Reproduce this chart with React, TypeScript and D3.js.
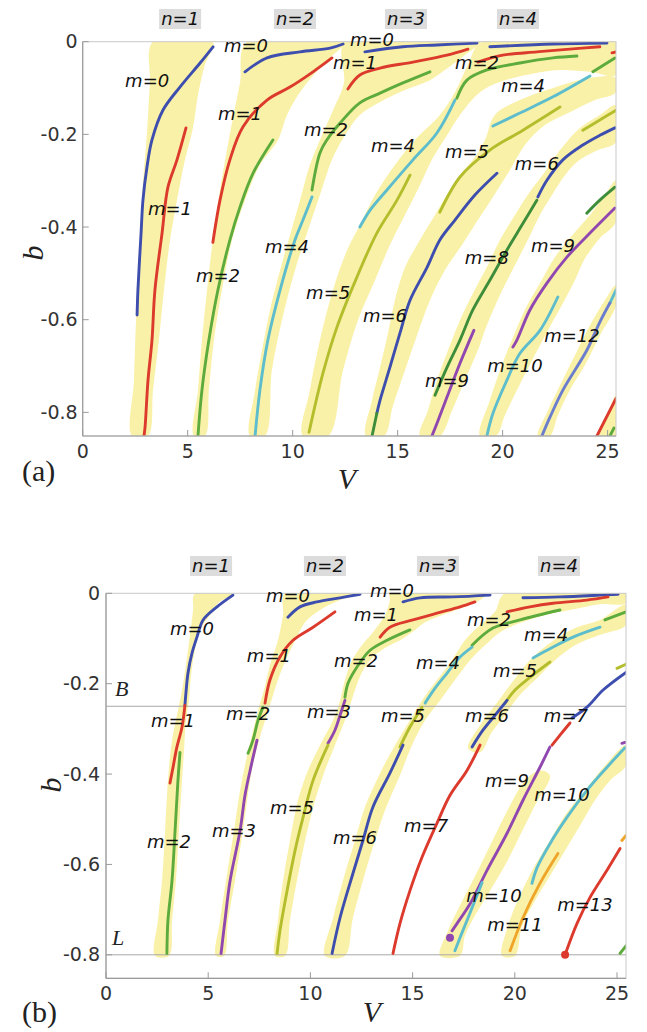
import React from 'react';
import * as d3 from 'd3';

type Pt = [number, number];

// ---------- shared axis ticks ----------
const xTicks = [0, 5, 10, 15, 20, 25];
const yTicks = [0, -0.2, -0.4, -0.6, -0.8];
const nTexts = ['n=1', 'n=2', 'n=3', 'n=4'];

// ---------- panel (a): shaded bands [V, b] ----------
const aBandN1: Pt[] = [[3.35, 0], [6.20, 0], [5.82, -0.050], [5.49, -0.115], [5.25, -0.186], [4.87, -0.255], [4.49, -0.342], [4.16, -0.428], [3.87, -0.536], [3.63, -0.644], [3.35, -0.752], [3.11, -0.851], [2.35, -0.851], [2.44, -0.731], [2.54, -0.601], [2.73, -0.428], [2.87, -0.305], [3.06, -0.197], [3.20, -0.089]];
const aBandN2: Pt[] = [[7.82, 0], [7.49, -0.089], [7.16, -0.163], [6.87, -0.234], [6.54, -0.320], [6.20, -0.428], [5.92, -0.536], [5.68, -0.644], [5.49, -0.752], [5.30, -0.851], [5.82, -0.851], [6.01, -0.752], [6.25, -0.644], [6.63, -0.536], [7.11, -0.428], [7.73, -0.342], [8.44, -0.266], [9.30, -0.212], [9.73, -0.158], [10.35, -0.109], [11.30, -0.057], [12.49, -0.007], [12.82, 0]];
const aBandN3: Pt[] = [[12.49, 0], [12.44, -0.089], [11.92, -0.148], [11.30, -0.212], [10.82, -0.266], [10.35, -0.342], [9.87, -0.418], [9.40, -0.493], [8.92, -0.579], [8.54, -0.666], [8.21, -0.752], [7.97, -0.851], [8.68, -0.851], [9.01, -0.709], [9.49, -0.601], [10.11, -0.493], [10.73, -0.407], [11.30, -0.331], [11.87, -0.255], [12.49, -0.202], [13.20, -0.158], [14.16, -0.130], [15.35, -0.104], [16.54, -0.083], [17.25, -0.061], [18.20, -0.029], [18.92, 0]];
const aBandN4: Pt[] = [[19.01, 0], [25.40, 0], [25.40, -0.072], [24.16, -0.065], [22.73, -0.061], [21.30, -0.070], [19.87, -0.087], [18.92, -0.109], [17.97, -0.158], [17.35, -0.202], [16.63, -0.255], [16.06, -0.310], [15.35, -0.374], [14.63, -0.439], [13.92, -0.515], [13.11, -0.601], [12.40, -0.709], [11.69, -0.851], [10.49, -0.851], [10.82, -0.752], [11.30, -0.644], [11.92, -0.536], [12.59, -0.450], [13.20, -0.396], [13.92, -0.331], [14.87, -0.266], [15.82, -0.212], [17.01, -0.158], [17.73, -0.109], [18.35, -0.050]];
const aBandM6: Pt[] = [[25.40, -0.078], [24.16, -0.078], [22.40, -0.100], [20.82, -0.126], [19.63, -0.158], [19.16, -0.212], [18.68, -0.249], [17.87, -0.294], [17.25, -0.338], [16.78, -0.374], [16.06, -0.428], [15.35, -0.487], [14.87, -0.558], [14.54, -0.629], [14.16, -0.703], [13.78, -0.774], [13.49, -0.851], [14.35, -0.851], [14.78, -0.785], [15.35, -0.709], [15.92, -0.634], [16.54, -0.558], [17.25, -0.493], [18.06, -0.439], [18.82, -0.385], [19.54, -0.335], [20.35, -0.277], [21.06, -0.223], [22.01, -0.180], [23.20, -0.152], [24.40, -0.126], [25.40, -0.109]];
const aBandM8: Pt[] = [[16.06, -0.851], [16.44, -0.796], [16.87, -0.731], [17.40, -0.666], [17.97, -0.601], [18.54, -0.547], [19.30, -0.482], [19.87, -0.428], [20.59, -0.374], [21.30, -0.324], [22.01, -0.281], [22.73, -0.234], [23.68, -0.186], [24.63, -0.158], [25.40, -0.137], [25.40, -0.217], [24.54, -0.234], [23.68, -0.255], [22.97, -0.288], [22.35, -0.331], [21.78, -0.374], [21.20, -0.428], [20.59, -0.482], [19.87, -0.547], [19.25, -0.612], [18.82, -0.666], [18.20, -0.731], [17.59, -0.796], [17.01, -0.851]];
const aBandM9: Pt[] = [[18.92, -0.851], [19.39, -0.774], [19.97, -0.698], [20.44, -0.644], [21.06, -0.579], [21.78, -0.521], [22.49, -0.465], [23.44, -0.411], [24.16, -0.374], [24.87, -0.331], [25.40, -0.299], [25.40, -0.389], [24.63, -0.424], [23.92, -0.468], [23.44, -0.515], [22.82, -0.569], [22.16, -0.623], [21.40, -0.688], [20.68, -0.752], [20.11, -0.806], [19.68, -0.851]];
const aBandM12: Pt[] = [[25.40, -0.525], [25.40, -0.569], [24.63, -0.634], [23.92, -0.698], [23.20, -0.752], [22.63, -0.806], [22.25, -0.851], [21.68, -0.851], [22.16, -0.796], [22.73, -0.742], [23.44, -0.677], [24.16, -0.612], [24.87, -0.558]];
const aBandCorner: Pt[] = [[25.40, -0.763], [25.40, -0.851], [24.54, -0.851], [24.97, -0.806]];

// ---------- panel (a): mode curves ----------
const aN1M0: Pt[] = [[6.21, -0.011], [5.59, -0.046], [4.63, -0.098], [3.82, -0.148], [3.30, -0.212], [3.06, -0.271], [2.87, -0.342], [2.78, -0.413], [2.63, -0.536], [2.59, -0.590]];
const aN1M1: Pt[] = [[4.92, -0.186], [4.49, -0.255], [4.06, -0.314], [3.78, -0.413], [3.44, -0.536], [3.30, -0.644], [3.11, -0.731], [2.97, -0.832], [2.92, -0.851]];
const aN2M0: Pt[] = [[7.73, -0.065], [8.78, -0.035], [10.35, -0.022], [11.78, -0.014], [12.40, -0.005]];
const aN2M1: Pt[] = [[6.20, -0.433], [6.54, -0.342], [7.01, -0.255], [7.63, -0.184], [8.78, -0.126], [9.87, -0.098], [10.97, -0.065], [11.87, -0.035]];
const aN2M2: Pt[] = [[9.06, -0.212], [8.11, -0.284], [7.49, -0.357], [7.01, -0.428], [6.44, -0.536], [6.01, -0.644], [5.68, -0.752], [5.49, -0.851]];
const aN3M0: Pt[] = [[13.44, -0.022], [15.25, -0.011], [16.87, -0.007], [18.78, -0.003]];
const aN3M1: Pt[] = [[12.63, -0.102], [13.20, -0.072], [14.16, -0.057], [15.73, -0.044], [17.35, -0.029], [18.35, -0.016]];
const aN3M2: Pt[] = [[16.54, -0.065], [15.25, -0.089], [14.16, -0.111], [13.20, -0.132], [12.25, -0.176], [11.63, -0.212], [11.30, -0.240], [10.92, -0.320]];
const aN3M4: Pt[] = [[10.92, -0.335], [10.49, -0.385], [10.11, -0.428], [9.40, -0.536], [8.82, -0.644], [8.44, -0.752], [8.21, -0.851]];
const aN4M0: Pt[] = [[19.39, -0.011], [22.40, -0.005], [24.97, -0.003]];
const aN4M1: Pt[] = [[18.82, -0.044], [20.01, -0.029], [21.63, -0.022], [23.20, -0.016], [24.63, -0.011]];
const aN4M1Tip: Pt[] = [[25.21, -0.024], [25.40, -0.022]];
const aN4M2: Pt[] = [[17.82, -0.122], [18.30, -0.083], [19.25, -0.061], [20.82, -0.046], [22.40, -0.035], [23.54, -0.031]];
const aN4M2Tip: Pt[] = [[24.30, -0.065], [25.35, -0.035]];
const aM4Low: Pt[] = [[17.73, -0.126], [16.87, -0.197], [15.73, -0.255], [14.49, -0.320], [13.68, -0.364], [13.20, -0.400]];
const aM5Low: Pt[] = [[15.59, -0.288], [14.97, -0.342], [14.01, -0.413], [13.06, -0.508], [12.11, -0.616], [11.44, -0.716], [10.78, -0.843]];
const aM4Up: Pt[] = [[19.54, -0.182], [20.82, -0.154], [22.40, -0.119], [24.16, -0.074]];
const aM5Up: Pt[] = [[22.73, -0.141], [20.97, -0.191], [19.39, -0.234], [17.97, -0.292], [17.01, -0.368]];
const aM6Low: Pt[] = [[19.73, -0.284], [18.68, -0.331], [17.73, -0.385], [17.01, -0.428], [16.40, -0.487], [15.59, -0.558], [15.11, -0.629], [14.63, -0.703], [14.16, -0.774], [14.01, -0.802]];
const aM6Tail: Pt[] = [[14.01, -0.802], [13.78, -0.851]];
const aM5Tip: Pt[] = [[23.82, -0.191], [24.63, -0.169], [25.40, -0.148]];
const aM6Up: Pt[] = [[25.35, -0.186], [24.63, -0.202], [23.82, -0.223], [22.87, -0.255], [22.11, -0.299], [21.68, -0.335]];
const aM8: Pt[] = [[21.63, -0.342], [20.97, -0.392], [20.20, -0.450], [19.39, -0.515], [18.58, -0.579], [17.97, -0.644], [17.35, -0.703], [16.78, -0.763]];
const aM9Low: Pt[] = [[18.63, -0.623], [17.97, -0.694], [17.35, -0.767], [16.87, -0.824], [16.63, -0.851]];
const aM8Tip: Pt[] = [[24.01, -0.370], [24.63, -0.342], [25.35, -0.314]];
const aM9Up: Pt[] = [[25.35, -0.359], [24.16, -0.413], [23.06, -0.465], [22.11, -0.521], [21.30, -0.579], [20.68, -0.644], [20.49, -0.659]];
const aM10: Pt[] = [[22.63, -0.551], [21.78, -0.623], [20.82, -0.673], [20.20, -0.731], [19.54, -0.802], [19.25, -0.851]];
const aM10Tip: Pt[] = [[25.40, -0.536], [25.11, -0.564]];
const aM12: Pt[] = [[25.11, -0.564], [24.63, -0.605], [24.01, -0.666], [22.87, -0.752], [22.25, -0.811], [21.87, -0.851]];
const aRedCorner: Pt[] = [[25.40, -0.770], [24.49, -0.851]];
const aGreenCorner: Pt[] = [[25.30, -0.834], [25.11, -0.851]];

const aLabels = [
  { t: 'm=0', v: 3.07, b: -0.083 }, { t: 'm=0', v: 7.78, b: -0.009 }, { t: 'm=0', v: 13.78, b: 0.004 },
  { t: 'm=1', v: 4.16, b: -0.360 }, { t: 'm=1', v: 7.49, b: -0.154 }, { t: 'm=1', v: 12.97, b: -0.046 },
  { t: 'm=2', v: 6.44, b: -0.504 }, { t: 'm=2', v: 11.59, b: -0.189 }, { t: 'm=2', v: 18.78, b: -0.046 },
  { t: 'm=4', v: 9.73, b: -0.443 }, { t: 'm=4', v: 14.78, b: -0.223 }, { t: 'm=4', v: 20.97, b: -0.094 },
  { t: 'm=5', v: 11.69, b: -0.541 }, { t: 'm=5', v: 18.30, b: -0.238 },
  { t: 'm=6', v: 14.40, b: -0.590 }, { t: 'm=6', v: 21.63, b: -0.262 },
  { t: 'm=8', v: 19.25, b: -0.465 }, { t: 'm=9', v: 22.40, b: -0.439 }, { t: 'm=9', v: 17.35, b: -0.731 },
  { t: 'm=10', v: 20.59, b: -0.698 }, { t: 'm=12', v: 23.30, b: -0.634 },
];
const aNLabelV = [4.64, 10.11, 15.40, 20.73];

// ---------- panel (b): shaded bands ----------
const bBandN1: Pt[] = [[4.35, 0], [4.26, -0.037], [4.11, -0.092], [3.91, -0.159], [3.72, -0.214], [3.52, -0.259], [3.23, -0.325], [3.03, -0.414], [2.89, -0.525], [2.74, -0.636], [2.54, -0.724], [2.40, -0.802], [3.08, -0.802], [3.23, -0.724], [3.42, -0.636], [3.57, -0.525], [3.72, -0.414], [3.82, -0.347], [3.91, -0.281], [4.06, -0.237], [4.16, -0.181], [4.35, -0.126], [4.60, -0.081], [5.09, -0.048], [5.48, -0.022], [6.21, 0]];
const bBandN2: Pt[] = [[8.76, 0], [8.66, -0.048], [8.41, -0.104], [8.02, -0.159], [7.73, -0.214], [7.44, -0.259], [7.14, -0.314], [6.85, -0.370], [6.56, -0.436], [6.26, -0.525], [5.87, -0.636], [5.58, -0.724], [5.38, -0.802], [5.77, -0.802], [5.97, -0.724], [6.31, -0.636], [6.70, -0.525], [7.05, -0.414], [7.29, -0.358], [7.63, -0.303], [8.02, -0.248], [8.41, -0.192], [8.90, -0.137], [9.34, -0.097], [9.74, -0.064], [10.47, -0.037], [11.45, -0.015], [12.43, 0]];
const bBandN3: Pt[] = [[13.89, 0], [18.64, 0], [18.30, -0.015], [17.56, -0.030], [16.59, -0.046], [15.61, -0.064], [15.12, -0.081], [14.38, -0.104], [13.65, -0.121], [13.01, -0.143], [12.52, -0.175], [12.18, -0.214], [11.94, -0.248], [11.69, -0.281], [11.20, -0.336], [10.71, -0.392], [10.23, -0.458], [9.74, -0.547], [9.34, -0.636], [9.00, -0.724], [8.76, -0.802], [8.27, -0.802], [8.41, -0.724], [8.66, -0.636], [9.00, -0.547], [9.39, -0.458], [9.88, -0.392], [10.47, -0.336], [11.11, -0.281], [11.45, -0.237], [11.69, -0.192], [12.04, -0.148], [12.52, -0.115], [13.06, -0.086], [13.65, -0.048], [13.89, -0.015]];
const bBandN4: Pt[] = [[19.52, 0], [25.44, 0], [25.44, -0.022], [24.17, -0.024], [22.70, -0.037], [21.48, -0.048], [20.25, -0.066], [19.28, -0.086], [18.54, -0.115], [17.81, -0.148], [17.07, -0.192], [16.34, -0.237], [15.61, -0.281], [14.97, -0.336], [14.38, -0.403], [13.65, -0.480], [13.16, -0.547], [12.67, -0.620], [12.08, -0.718], [11.69, -0.802], [10.71, -0.802], [11.11, -0.718], [11.69, -0.620], [12.18, -0.547], [12.67, -0.473], [13.41, -0.398], [14.14, -0.336], [14.87, -0.281], [15.46, -0.237], [16.19, -0.192], [16.93, -0.148], [17.56, -0.104], [18.30, -0.070], [19.03, -0.041]];
const bBandM5: Pt[] = [[25.44, -0.026], [25.44, -0.070], [24.17, -0.092], [22.95, -0.115], [21.97, -0.148], [20.99, -0.192], [20.11, -0.232], [19.52, -0.270], [18.88, -0.307], [18.30, -0.352], [17.71, -0.343], [18.30, -0.292], [19.03, -0.248], [19.77, -0.203], [20.74, -0.148], [21.72, -0.110], [22.95, -0.077], [24.17, -0.059]];
const bBandM9: Pt[] = [[21.23, -0.392], [21.72, -0.403], [20.99, -0.469], [20.25, -0.536], [19.52, -0.602], [18.79, -0.658], [18.05, -0.713], [17.56, -0.758], [17.32, -0.802], [16.34, -0.802], [16.73, -0.747], [17.32, -0.691], [18.20, -0.613], [19.03, -0.536], [19.77, -0.469], [20.50, -0.414]];
const bBandM10: Pt[] = [[25.44, -0.336], [25.44, -0.381], [24.66, -0.414], [23.92, -0.458], [23.19, -0.514], [22.46, -0.569], [21.72, -0.625], [20.99, -0.680], [20.35, -0.736], [20.01, -0.802], [19.37, -0.802], [19.67, -0.736], [20.25, -0.669], [20.99, -0.602], [21.72, -0.547], [22.46, -0.491], [23.43, -0.436], [24.41, -0.381]];

// ---------- panel (b): mode curves ----------
const bN1M0: Pt[] = [[6.21, -0.004], [5.43, -0.030], [4.75, -0.059], [4.45, -0.097], [4.21, -0.132], [4.01, -0.177], [3.91, -0.221], [3.86, -0.248]];
const bN1M1: Pt[] = [[3.86, -0.248], [3.72, -0.296], [3.47, -0.340], [3.28, -0.385], [3.13, -0.420]];
const bN1M2: Pt[] = [[3.62, -0.352], [3.52, -0.414], [3.38, -0.525], [3.23, -0.636], [3.03, -0.724], [2.98, -0.797]];
const bN2M0: Pt[] = [[8.90, -0.053], [9.49, -0.030], [10.32, -0.019], [11.45, -0.010], [12.43, -0.002]];
const bN2M1: Pt[] = [[11.20, -0.041], [10.13, -0.075], [9.15, -0.104], [8.51, -0.141], [8.02, -0.192], [7.78, -0.243]];
const bN2M2: Pt[] = [[7.68, -0.252], [7.44, -0.281], [7.19, -0.325], [6.95, -0.354]];
const bN2M3: Pt[] = [[7.39, -0.325], [7.05, -0.392], [6.80, -0.447], [6.56, -0.525], [6.07, -0.636], [5.82, -0.724], [5.63, -0.797]];
const bN3M0: Pt[] = [[14.53, -0.019], [15.36, -0.010], [16.98, -0.008], [18.79, -0.004]];
const bN3M1: Pt[] = [[13.41, -0.097], [13.89, -0.075], [15.02, -0.059], [16.19, -0.044], [17.32, -0.030], [18.05, -0.019]];
const bN3M2: Pt[] = [[14.87, -0.081], [13.75, -0.104], [12.92, -0.126], [12.28, -0.163], [11.84, -0.199], [11.69, -0.230]];
const bN3M3: Pt[] = [[11.69, -0.237], [11.45, -0.270], [11.20, -0.303], [10.86, -0.332]];
const bN3M5: Pt[] = [[10.86, -0.336], [10.13, -0.414], [9.64, -0.496], [9.25, -0.569], [8.86, -0.658], [8.51, -0.747], [8.37, -0.797]];
const bN4M0: Pt[] = [[20.40, -0.010], [22.21, -0.008], [24.17, -0.004], [25.05, -0.002]];
const bN4M1: Pt[] = [[19.62, -0.041], [20.74, -0.030], [21.87, -0.022], [23.53, -0.015], [24.56, -0.008]];
const bN4M2: Pt[] = [[17.91, -0.115], [18.93, -0.077], [20.25, -0.059], [22.21, -0.037]];
const bN4M2Tip: Pt[] = [[24.41, -0.059], [25.44, -0.041]];
const bM4Low: Pt[] = [[17.91, -0.119], [17.32, -0.141], [16.68, -0.177], [16.10, -0.210], [15.61, -0.243]];
const bM5Low: Pt[] = [[15.46, -0.252], [14.87, -0.296], [14.38, -0.340]];
const bM6Low: Pt[] = [[14.53, -0.336], [13.89, -0.398], [13.06, -0.473], [12.57, -0.547], [12.08, -0.620], [11.45, -0.718], [11.06, -0.797]];
const bM4Up: Pt[] = [[24.17, -0.075], [22.85, -0.097], [21.58, -0.126], [20.89, -0.143]];
const bM5Up: Pt[] = [[21.72, -0.152], [20.74, -0.186], [20.01, -0.214], [19.52, -0.243]];
const bM6Up: Pt[] = [[19.62, -0.237], [19.03, -0.270], [18.44, -0.303], [17.91, -0.340]];
const bM7Low: Pt[] = [[18.30, -0.336], [17.66, -0.392], [16.83, -0.447], [16.19, -0.509], [15.46, -0.584], [14.87, -0.658], [14.38, -0.731], [14.04, -0.797]];
const bM5Tip: Pt[] = [[25.00, -0.166], [25.44, -0.157]];
const bM7Blue: Pt[] = [[25.44, -0.175], [24.32, -0.214], [23.53, -0.252], [22.80, -0.276]];
const bM7Red: Pt[] = [[22.70, -0.287], [22.21, -0.314], [21.82, -0.336]];
const bM9: Pt[] = [[21.72, -0.340], [21.23, -0.385], [20.40, -0.458], [19.62, -0.531], [18.64, -0.613], [17.81, -0.687], [17.17, -0.731], [16.93, -0.747]];
const bM9Tip: Pt[] = [[25.24, -0.332], [25.39, -0.330]];
const bM10Low: Pt[] = [[18.40, -0.640], [18.05, -0.680], [17.66, -0.724], [17.32, -0.762], [17.07, -0.791]];
const bM10Up: Pt[] = [[25.39, -0.342], [24.51, -0.385], [23.53, -0.436], [22.55, -0.496], [21.72, -0.554], [21.09, -0.607], [20.84, -0.642]];
const bM11: Pt[] = [[22.11, -0.576], [21.23, -0.642], [20.40, -0.718], [19.77, -0.791]];
const bM11Tip: Pt[] = [[25.24, -0.547], [25.44, -0.536]];
const bM13: Pt[] = [[25.15, -0.565], [24.51, -0.613], [23.68, -0.673], [23.04, -0.731], [22.46, -0.800]];
const bGreenCorner: Pt[] = [[25.15, -0.797], [25.44, -0.780]];
const bDotPurple: Pt = [16.83, -0.762];
const bDotRed: Pt = [22.46, -0.800];
const bLevelB = -0.25;
const bLevelL = -0.8;

const bLabels = [
  { t: 'm=0', v: 4.21, b: -0.077 }, { t: 'm=0', v: 8.90, b: -0.006 }, { t: 'm=0', v: 13.99, b: 0.007 },
  { t: 'm=1', v: 7.97, b: -0.137 }, { t: 'm=1', v: 13.21, b: -0.048 },
  { t: 'm=2', v: 12.23, b: -0.148 }, { t: 'm=2', v: 18.74, b: -0.059 },
  { t: 'm=4', v: 16.24, b: -0.154 }, { t: 'm=4', v: 21.53, b: -0.092 }, { t: 'm=5', v: 20.01, b: -0.170 },
  { t: 'm=1', v: 3.28, b: -0.281 }, { t: 'm=2', v: 6.95, b: -0.265 }, { t: 'm=3', v: 10.91, b: -0.261 },
  { t: 'm=5', v: 14.53, b: -0.270 }, { t: 'm=6', v: 18.64, b: -0.270 }, { t: 'm=7', v: 22.50, b: -0.270 },
  { t: 'm=9', v: 19.62, b: -0.415 }, { t: 'm=10', v: 22.31, b: -0.446 },
  { t: 'm=2', v: 3.08, b: -0.550 }, { t: 'm=3', v: 6.26, b: -0.524 }, { t: 'm=5', v: 9.10, b: -0.473 },
  { t: 'm=6', v: 12.18, b: -0.541 }, { t: 'm=7', v: 15.66, b: -0.515 },
  { t: 'm=10', v: 18.98, b: -0.669 }, { t: 'm=11', v: 20.01, b: -0.733 }, { t: 'm=13', v: 23.43, b: -0.688 },
];
const bNLabelV = [5.14, 10.71, 16.24, 22.16];

// ---------- colours ----------
const BLUE = '#3d4eae';
const RED = '#dc3a2c';
const GREEN = '#5cab3c';
const DGREEN = '#3d8d3a';
const CYAN = '#5dbdcc';
const OLIVE = '#b4bd2c';
const PURPLE = '#9048b0';
const SLATE = '#6b7ecd';
const ORANGE = '#eea52a';
const YELLOW = '#faf1a8';

const aCurves = [
  { d: aN1M0, c: BLUE }, { d: aN1M1, c: RED }, { d: aN2M0, c: BLUE }, { d: aN2M1, c: RED }, { d: aN2M2, c: GREEN },
  { d: aN3M0, c: BLUE }, { d: aN3M1, c: RED }, { d: aN3M2, c: GREEN }, { d: aN3M4, c: CYAN },
  { d: aN4M0, c: BLUE }, { d: aN4M1, c: RED }, { d: aN4M1Tip, c: RED }, { d: aN4M2, c: GREEN }, { d: aN4M2Tip, c: GREEN },
  { d: aM4Low, c: CYAN }, { d: aM5Low, c: OLIVE }, { d: aM4Up, c: CYAN }, { d: aM5Up, c: OLIVE },
  { d: aM6Low, c: BLUE }, { d: aM6Tail, c: DGREEN }, { d: aM5Tip, c: OLIVE }, { d: aM6Up, c: BLUE },
  { d: aM8, c: DGREEN }, { d: aM9Low, c: PURPLE }, { d: aM8Tip, c: DGREEN }, { d: aM9Up, c: PURPLE },
  { d: aM10, c: CYAN }, { d: aM10Tip, c: CYAN }, { d: aM12, c: SLATE }, { d: aRedCorner, c: RED }, { d: aGreenCorner, c: GREEN },
];
const aBands = [aBandN1, aBandN2, aBandN3, aBandN4, aBandM6, aBandM8, aBandM9, aBandM12, aBandCorner];

const bCurves = [
  { d: bN1M0, c: BLUE }, { d: bN1M1, c: RED }, { d: bN1M2, c: GREEN },
  { d: bN2M0, c: BLUE }, { d: bN2M1, c: RED }, { d: bN2M2, c: GREEN }, { d: bN2M3, c: PURPLE },
  { d: bN3M0, c: BLUE }, { d: bN3M1, c: RED }, { d: bN3M2, c: GREEN }, { d: bN3M3, c: PURPLE }, { d: bN3M5, c: OLIVE },
  { d: bN4M0, c: BLUE }, { d: bN4M1, c: RED }, { d: bN4M2, c: GREEN }, { d: bN4M2Tip, c: GREEN },
  { d: bM4Low, c: CYAN }, { d: bM5Low, c: OLIVE }, { d: bM6Low, c: BLUE },
  { d: bM4Up, c: CYAN }, { d: bM5Up, c: OLIVE }, { d: bM6Up, c: BLUE }, { d: bM7Low, c: RED },
  { d: bM5Tip, c: OLIVE }, { d: bM7Blue, c: BLUE }, { d: bM7Red, c: RED }, { d: bM9, c: PURPLE }, { d: bM9Tip, c: PURPLE },
  { d: bM10Low, c: CYAN }, { d: bM10Up, c: CYAN }, { d: bM11, c: ORANGE }, { d: bM11Tip, c: ORANGE },
  { d: bM13, c: RED }, { d: bGreenCorner, c: GREEN },
];
const bBands = [bBandN1, bBandN2, bBandN3, bBandN4, bBandM5, bBandM9, bBandM10];

const SANS = '"DejaVu Sans", sans-serif';
const SERIF = '"Liberation Serif", "Times New Roman", serif';

function Panel(props: any) {
  const { id, box, xMax, yMin, bands, curves, labels, nV, tag, tagPos, vPos, bPos, nBoxY, labelGap, levels, dots } = props;
  const x = d3.scaleLinear().domain([0, xMax]).range([box.left, box.right]);
  const y = d3.scaleLinear().domain([yMin, 0]).range([box.bottom, box.top]);

  const line = d3.line<Pt>().x(d => x(d[0])).y(d => y(d[1])).curve(d3.curveCatmullRom.alpha(0.5));
  const area = d3.line<Pt>().x(d => x(d[0])).y(d => y(d[1])).curve(d3.curveCatmullRomClosed.alpha(0.5));

  return (
    <g>
      <defs>
        <clipPath id={'clip-' + id}>
          <rect x={box.left} y={box.top} width={box.right - box.left} height={box.bottom - box.top} />
        </clipPath>
      </defs>

      <g clipPath={`url(#clip-${id})`}>
        {bands.map((p: Pt[], i: number) => (
          <path key={i} d={area(p) || ''} fill={YELLOW} stroke="none" />
        ))}
        {(levels || []).map((lv: number, i: number) => (
          <line key={'lv' + i} x1={box.left} x2={box.right} y1={y(lv)} y2={y(lv)} stroke="#a8a8a8" strokeWidth={1} />
        ))}
        {curves.map((c: any, i: number) => (
          <path key={'c' + i} d={line(c.d) || ''} fill="none" stroke={c.c} strokeWidth={2.9} strokeLinecap="round" strokeLinejoin="round" />
        ))}
        {(dots || []).map((dt: any, i: number) => (
          <circle key={'d' + i} cx={x(dt.p[0])} cy={y(dt.p[1])} r={4} fill={dt.c} />
        ))}
      </g>

      {/* frame */}
      <rect x={box.left} y={box.top} width={box.right - box.left} height={box.bottom - box.top} fill="none" stroke="#c9c9c9" strokeWidth={1} />
      <line x1={box.left} x2={box.left} y1={box.top} y2={box.bottom} stroke="#9a9a9a" strokeWidth={1.2} />
      <line x1={box.left} x2={box.right} y1={box.bottom} y2={box.bottom} stroke="#9a9a9a" strokeWidth={1.2} />

      {xTicks.map(t => (
        <g key={'xt' + t}>
          <line x1={x(t)} x2={x(t)} y1={box.bottom} y2={box.bottom - 6} stroke="#9a9a9a" />
          <text x={x(t)} y={box.bottom + 22} textAnchor="middle" fontFamily={SANS} fontSize={19} fill="#333">{t}</text>
        </g>
      ))}
      {yTicks.map(t => (
        <g key={'yt' + t}>
          <line x1={box.left} x2={box.left + 6} y1={y(t)} y2={y(t)} stroke="#9a9a9a" />
          <text x={box.left - labelGap} y={y(t)} dy="0.35em" textAnchor="end" fontFamily={SANS} fontSize={19} fill="#333">{String(t)}</text>
        </g>
      ))}

      {/* mode labels */}
      {labels.map((l: any, i: number) => (
        <text key={'l' + i} x={x(l.v)} y={y(l.b)} dy="0.36em" textAnchor="middle" fontFamily={SANS} fontStyle="italic" fontSize={18} fill="#111">{l.t}</text>
      ))}

      {/* n labels */}
      {nV.map((v: number, i: number) => (
        <g key={'n' + i}>
          <rect x={x(v) - 21} y={nBoxY} width={42} height={20} fill="#dcdcdc" />
          <text x={x(v)} y={nBoxY + 10} dy="0.36em" textAnchor="middle" fontFamily={SANS} fontStyle="italic" fontSize={18} fill="#111">{nTexts[i]}</text>
        </g>
      ))}

      {(levels || []).length > 0 && (
        <g>
          <text x={box.left + 9} y={y(levels[0]) - 10} fontFamily={SERIF} fontStyle="italic" fontSize={22} fill="#222">B</text>
          <text x={box.left + 6} y={y(levels[1]) - 10} fontFamily={SERIF} fontStyle="italic" fontSize={22} fill="#222">L</text>
        </g>
      )}

      <text x={vPos[0]} y={vPos[1]} textAnchor="middle" fontFamily={SERIF} fontStyle="italic" fontSize={30} fill="#222">V</text>
      <text transform={`translate(${bPos[0]},${bPos[1]}) rotate(-90)`} textAnchor="middle" dy="0.35em" fontFamily={SERIF} fontStyle="italic" fontSize={30} fill="#222">b</text>
      <text x={tagPos[0]} y={tagPos[1]} fontFamily={SERIF} fontSize={30} fill="#222">{tag}</text>
    </g>
  );
}

export default function App() {
  return (
    <svg width={647} height={1032} style={{ position: 'absolute', left: 0, top: 0, background: '#fff' }}>
      <Panel
        id="a"
        box={{ left: 82.7, right: 616, top: 41.7, bottom: 436 }}
        xMax={25.4}
        yMin={-0.851}
        bands={aBands}
        curves={aCurves}
        labels={aLabels}
        nV={aNLabelV}
        nBoxY={9}
        labelGap={5}
        tag="(a)"
        tagPos={[22, 481]}
        vPos={[347, 489]}
        bPos={[32, 253]}
      />
      <Panel
        id="b"
        box={{ left: 106, right: 626, top: 593.3, bottom: 978.3 }}
        xMax={25.44}
        yMin={-0.852}
        bands={bBands}
        curves={bCurves}
        labels={bLabels}
        nV={bNLabelV}
        nBoxY={556}
        labelGap={6}
        levels={[bLevelB, bLevelL]}
        dots={[{ p: bDotPurple, c: PURPLE }, { p: bDotRed, c: RED }]}
        tag="(b)"
        tagPos={[22, 1022]}
        vPos={[372, 1022]}
        bPos={[50, 785]}
      />
    </svg>
  );
}
